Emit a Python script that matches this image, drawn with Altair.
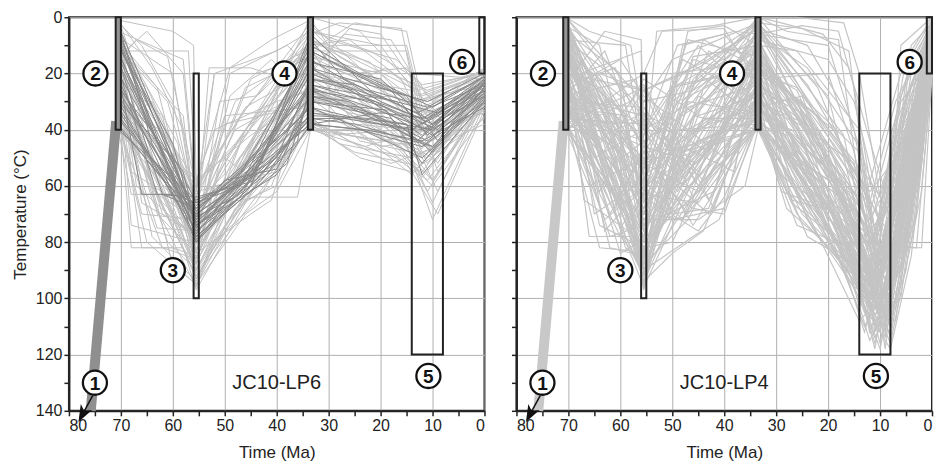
import altair as alt
import pandas as pd

# ---------------- data ----------------
# Thermal-history paths: flat lists of (time Ma, temperature C) pairs
LP6_LIGHT = [
    [70.5,3, 62,40, 55.5,88, 48,55, 33.5,8, 22,20, 11,45, 0,22],
    [70.5,10, 64,60, 55.5,92, 45,62, 33.5,30, 25,28, 12,52, 0,26],
    [70.5,25, 66,82, 58,82, 55.5,90, 44,45, 33.5,15, 18,35, 10,40, 0,20],
    [70.5,5, 58,15, 55.5,65, 50,60, 33.5,20, 14,26, 9,55, 0,28],
    [70.5,38, 63,63, 55.5,72, 52,20, 40,12, 33.5,5, 20,10, 13,28, 0,19],
    [70.5,15, 60,88, 55.5,95, 46,70, 40,62, 33.5,40, 16,45, 11,50, 0,32],
    [70.5,30, 68,82, 60,82, 55.5,85, 45,50, 33.5,12, 25,2, 15,5, 12,30, 0,21],
    [70.5,2, 66,10, 60,30, 55.5,70, 48,40, 33.5,25, 20,42, 10,60, 0,35],
    [70.5,20, 62,70, 55.5,78, 51,30, 44,28, 33.5,2, 24,18, 11,35, 0,23],
    [70.5,35, 65,50, 55.5,62, 47,58, 33.5,35, 28,45, 14,50, 8,45, 0,30],
    [70.5,8, 63,25, 55.5,80, 49,20, 38,10, 33.5,18, 22,32, 12,38, 0,24],
    [70.5,18, 60,55, 55.5,93, 50,75, 42,50, 33.5,28, 17,38, 10,66, 0,27],
    [70.5,12, 57,12, 55.5,60, 45,30, 33.5,10, 26,8, 16,22, 11,42, 0,20],
    [70.5,28, 64,40, 55.5,75, 43,38, 33.5,22, 28,28, 13,47, 0,33],
    [70.5,0, 67,20, 55.5,68, 52,60, 40,55, 33.5,38, 22,44, 12,55, 0,25],
    [70.5,40, 60,64, 55.5,82, 48,65, 33.5,30, 19,18, 11,30, 0,22],
    [70.5,22, 62,35, 55.5,86, 46,48, 38,20, 33.5,12, 15,12, 12,35, 0,18],
    [70.5,6, 59,45, 55.5,96, 50,66, 33.5,0, 24,5, 12,28, 0,20],
    [70.5,32, 63,75, 55.5,76, 53,18, 45,18, 33.5,25, 20,36, 9,48, 0,29],
    [70.5,14, 65,5, 58,20, 55.5,66, 48,52, 33.5,16, 25,38, 14,40, 0,26],
    [70.5,26, 61,80, 55.5,90, 47,60, 33.5,36, 30,42, 16,40, 10,72, 0,31],
    [70.5,4, 62,50, 55.5,84, 45,70, 41,65, 33.5,20, 21,30, 13,38, 0,23],
    [70.5,36, 66,70, 55.5,72, 49,48, 33.5,8, 27,12, 18,20, 11,26, 0,19],
    [70.5,10, 58,35, 55.5,74, 50,50, 44,58, 33.5,40, 23,46, 12,40, 0,34],
    [70.5,20, 63,58, 55.5,88, 52,60, 36,12, 33.5,6, 28,2, 16,4, 12,40, 0,21],
    [70.5,2, 68,55, 55.5,70, 46,25, 33.5,14, 20,26, 8,36, 0,24],
    [70.5,30, 61,42, 55.5,64, 50,35, 33.5,32, 25,40, 14,56, 0,28],
    [70.5,16, 64,78, 55.5,94, 48,62, 33.5,24, 22,38, 10,50, 0,27],
    [70.5,24, 60,70, 55.5,80, 51,55, 33.5,3, 30,8, 17,15, 12,24, 0,20],
    [70.5,8, 66,30, 55.5,58, 45,42, 33.5,28, 26,34, 15,38, 9,62, 0,30],
    [70.5,38, 67,48, 55.5,92, 44,64, 33.5,38, 24,50, 14,55, 0,36],
    [70.5,12, 60,60, 55.5,86, 47,45, 37,18, 33.5,10, 21,24, 10,44, 0,22],
    [70.5,34, 62,66, 55.5,77, 49,28, 41,15, 33.5,30, 18,28, 11,34, 0,25],
    [70.5,6, 65,35, 55.5,83, 53,70, 33.5,18, 27,24, 12,46, 0,26],
    [70.5,28, 59,76, 55.5,97, 46,66, 33.5,26, 19,42, 11,58, 0,32],
    [70.5,40, 68,63, 60,63, 55.5,68, 44,64, 36,64, 33.5,40, 20,40, 13,48, 0,29],
    [70.5,20, 69,40, 60,58, 55.5,62, 52,20, 44,20, 33.5,14, 20,20, 13,30, 0,20],
    [70.5,1, 60,5, 56,10, 55.5,60, 48,45, 33.5,8, 25,15, 13,26, 0,19],
    [70.5,9, 66,45, 57,84, 55.5,89, 47,66, 40,60, 33.5,36, 26,44, 17,50, 12,57, 0,30],
    [70.5,33, 60,50, 55.5,60, 49,18, 41,8, 33.5,1, 30,10, 15,10, 12,32, 0,22],
    [70.5,17, 67,60, 55.5,79, 50,64, 43,40, 33.5,20, 26,4, 20,6, 14,22, 9,40, 0,24],
    [70.5,1, 64,18, 58,40, 55.5,73, 46,58, 33.5,33, 21,38, 10,58, 0,31],
    [70.5,37, 65,80, 55.5,95, 48,70, 33.5,22, 23,26, 16,32, 11,52, 0,26],
    [70.5,24, 68,36, 55.5,58, 52,40, 40,30, 33.5,26, 24,32, 13,42, 0,23],
    [70.5,5, 63,70, 55.5,84, 51,52, 38,25, 33.5,4, 28,14, 17,26, 10,36, 0,21],
    [70.5,29, 62,56, 55.5,91, 44,60, 33.5,39, 25,48, 15,52, 9,70, 0,33],
    [70.5,13, 65,25, 55.5,63, 50,45, 45,22, 33.5,11, 27,30, 14,35, 8,42, 0,25],
    [70.5,39, 62,82, 55.5,86, 49,58, 33.5,29, 20,46, 12,44, 0,27],
    [70.5,7, 60,20, 55.5,71, 47,35, 33.5,5, 22,12, 13,22, 10,30, 0,18],
    [70.5,21, 64,65, 55.5,96, 52,80, 44,66, 33.5,34, 28,36, 16,46, 11,62, 0,29],
    [70.5,31, 66,42, 55.5,81, 46,40, 33.5,16, 23,22, 14,30, 0,24],
    [70.5,11, 61,30, 55.5,67, 52,62, 38,38, 33.5,37, 30,40, 18,52, 12,48, 0,38],
    [70.5,26, 63,48, 55.5,87, 45,54, 33.5,13, 25,20, 15,18, 11,28, 0,20],
    [70.5,3, 66,66, 55.5,77, 50,38, 33.5,31, 28,22, 20,30, 12,36, 0,26],
    [70.5,35, 60,74, 55.5,93, 48,68, 41,60, 33.5,24, 24,44, 14,48, 10,58, 0,30],
    [70.5,16, 67,8, 61,14, 55.5,61, 46,32, 33.5,19, 27,6, 18,8, 14,20, 0,22],
    [70.5,23, 59,62, 55.5,75, 44,46, 33.5,27, 21,34, 12,50, 0,28],
    [70.5,9, 63,55, 55.5,90, 49,72, 33.5,39, 26,42, 19,44, 11,40, 0,34],
    [70.5,37, 64,30, 55.5,66, 48,30, 42,22, 33.5,9, 22,16, 13,34, 0,21],
    [70.5,19, 68,74, 56,80, 55.5,83, 47,50, 33.5,21, 24,28, 15,36, 9,52, 0,25],
]
LP6_DARK = [
    [70.5,5, 55.5,72, 45,55, 33.5,15, 20,30, 10,38, 0,24],
    [70.5,15, 62,63, 55.5,68, 48,58, 33.5,25, 22,32, 11,40, 0,26],
    [70.5,30, 55.5,78, 46,62, 38,45, 33.5,30, 18,36, 10,48, 0,28],
    [70.5,10, 60,45, 55.5,75, 50,62, 40,50, 33.5,22, 25,26, 12,42, 0,22],
    [70.5,35, 55.5,70, 44,55, 33.5,38, 20,34, 11,36, 0,25],
    [70.5,20, 66,63, 60,63, 55.5,66, 47,60, 33.5,10, 24,20, 10,32, 0,21],
    [70.5,8, 55.5,80, 48,62, 42,48, 33.5,32, 26,38, 12,50, 0,30],
    [70.5,25, 58,55, 55.5,74, 45,58, 33.5,18, 15,28, 9,44, 0,23],
    [70.5,40, 55.5,65, 49,60, 33.5,35, 22,36, 10,40, 0,27],
    [70.5,12, 55.5,77, 46,56, 33.5,28, 26,30, 13,44, 0,24],
    [70.5,3, 62,40, 55.5,73, 43,50, 33.5,12, 20,25, 11,30, 0,20],
    [70.5,28, 55.5,69, 48,56, 38,40, 33.5,24, 17,30, 12,38, 0,26],
    [70.5,18, 63,63, 55.5,64, 44,58, 33.5,36, 25,38, 10,46, 0,29],
    [70.5,33, 55.5,76, 47,64, 33.5,20, 23,27, 9,34, 0,22],
    [70.5,6, 55.5,71, 50,58, 40,54, 33.5,30, 19,33, 12,52, 0,25],
    [70.5,22, 55.5,80, 45,60, 33.5,8, 27,22, 11,36, 0,21],
    [70.5,38, 61,60, 55.5,67, 46,52, 33.5,26, 21,30, 10,42, 0,28],
    [70.5,14, 55.5,74, 42,56, 33.5,34, 15,38, 12,56, 0,30],
    [70.5,2, 64,45, 55.5,76, 46,60, 33.5,18, 24,28, 12,36, 0,23],
    [70.5,26, 55.5,72, 48,60, 40,52, 33.5,28, 22,34, 11,44, 0,27],
    [70.5,36, 62,55, 55.5,70, 45,57, 33.5,16, 20,22, 10,38, 0,22],
    [70.5,10, 55.5,66, 47,58, 33.5,38, 24,40, 12,46, 0,30],
    [70.5,30, 60,50, 55.5,79, 44,60, 36,44, 33.5,22, 25,24, 13,34, 0,24],
    [70.5,16, 55.5,73, 49,62, 33.5,12, 18,26, 11,42, 0,26],
    [70.5,24, 66,38, 55.5,68, 46,54, 33.5,32, 20,38, 12,40, 0,28],
    [70.5,7, 55.5,78, 45,62, 38,52, 33.5,26, 26,32, 10,46, 0,25],
    [70.5,39, 55.5,71, 48,64, 33.5,36, 27,36, 14,40, 0,24],
    [70.5,20, 58,60, 55.5,75, 43,52, 33.5,6, 22,26, 11,32, 0,21],
    [70.5,13, 55.5,69, 47,55, 33.5,24, 19,32, 9,40, 0,23],
    [70.5,32, 55.5,74, 46,63, 40,56, 33.5,38, 23,40, 12,44, 0,32],
]
LP4_LIGHT = [
    [70.5,2, 55.5,90, 45,40, 33.5,5, 20,50, 11,100, 5,40, 0,5],
    [70.5,38, 55.5,25, 45,60, 33.5,38, 25,70, 12,95, 6,30, 0,15],
    [70.5,20, 62,82, 55.5,85, 48,30, 33.5,0, 28,5, 18,8, 14,60, 9,110, 3,30, 0,10],
    [70.5,10, 55.5,60, 50,72, 40,68, 33.5,20, 22,60, 11,80, 7,60, 0,20],
    [70.5,30, 65,50, 55.5,40, 45,10, 33.5,30, 26,45, 13,105, 6,55, 0,8],
    [70.5,5, 60,20, 55.5,75, 47,5, 40,3, 33.5,10, 20,55, 10,90, 4,20, 0,2],
    [70.5,25, 58,70, 55.5,95, 44,25, 33.5,15, 25,35, 12,115, 8,100, 0,12],
    [70.5,40, 66,60, 55.5,50, 49,50, 33.5,40, 27,58, 18,80, 11,95, 5,80, 0,18],
    [70.5,0, 55.5,30, 50,15, 33.5,2, 25,4, 16,12, 13,55, 9,108, 6,10, 0,0],
    [70.5,15, 63,35, 55.5,88, 46,52, 33.5,25, 20,70, 10,112, 6,65, 3,30, 0,10],
    [70.5,35, 64,82, 58,83, 55.5,92, 50,60, 33.5,5, 24,30, 14,48, 10,85, 0,5],
    [70.5,8, 55.5,45, 42,20, 33.5,35, 28,62, 19,78, 12,100, 7,45, 0,16],
    [70.5,22, 60,65, 55.5,55, 53,5, 42,3, 33.5,0, 22,25, 12,70, 4,15, 0,3],
    [70.5,12, 55.5,70, 48,72, 40,30, 33.5,12, 26,40, 11,92, 8,85, 0,14],
    [70.5,40, 58,30, 55.5,22, 45,35, 33.5,28, 30,55, 15,75, 9,104, 2,12, 0,6],
    [70.5,3, 64,10, 55.5,80, 45,62, 33.5,38, 22,65, 13,110, 5,82, 2,82, 0,20],
    [70.5,28, 55.5,35, 50,45, 33.5,8, 20,15, 15,30, 11,60, 7,75, 0,9],
    [70.5,18, 62,40, 55.5,68, 46,15, 33.5,22, 25,50, 14,88, 9,96, 4,40, 0,11],
    [70.5,32, 55.5,92, 52,55, 43,70, 33.5,30, 24,66, 12,104, 8,112, 0,18],
    [70.5,6, 58,55, 55.5,48, 47,25, 33.5,3, 27,20, 13,65, 6,20, 0,1],
    [70.5,26, 60,15, 55.5,28, 40,50, 33.5,35, 28,40, 17,60, 10,100, 3,55, 0,16],
    [70.5,14, 55.5,85, 49,35, 33.5,18, 24,45, 12,82, 8,60, 0,7],
    [70.5,36, 63,72, 55.5,60, 45,48, 33.5,10, 26,12, 14,40, 11,76, 6,35, 0,4],
    [70.5,0, 66,5, 58,10, 55.5,38, 44,58, 33.5,40, 26,70, 13,96, 7,104, 0,19],
    [70.5,22, 55.5,78, 48,10, 38,5, 33.5,6, 25,3, 18,5, 15,25, 12,58, 8,90, 0,8],
    [70.5,10, 60,75, 55.5,62, 47,40, 33.5,26, 20,62, 11,116, 5,70, 0,13],
    [70.5,30, 55.5,32, 43,65, 33.5,32, 25,55, 13,78, 9,70, 4,25, 0,5],
    [70.5,38, 62,45, 55.5,82, 50,80, 41,45, 33.5,14, 22,40, 12,90, 7,50, 0,17],
    [70.5,4, 55.5,55, 46,68, 40,70, 33.5,36, 27,60, 16,85, 10,110, 6,85, 0,20],
    [70.5,16, 57,60, 55.5,42, 48,20, 33.5,2, 20,28, 14,72, 8,80, 3,20, 0,2],
    [70.5,34, 60,48, 55.5,96, 50,50, 33.5,20, 26,25, 12,62, 6,48, 0,10],
    [70.5,20, 64,25, 55.5,52, 46,45, 33.5,34, 23,75, 13,98, 8,106, 4,60, 0,14],
    [70.5,8, 59,82, 55.5,86, 44,30, 33.5,9, 28,35, 15,52, 11,88, 5,28, 0,6],
    [70.5,40, 55.5,20, 52,5, 40,4, 33.5,24, 20,45, 12,85, 7,90, 0,18],
    [70.5,12, 62,60, 55.5,72, 45,72, 36,60, 33.5,40, 30,45, 18,82, 13,112, 7,70, 0,12],
    [70.5,26, 55.5,58, 49,30, 33.5,16, 22,50, 11,74, 4,45, 0,3],
    [70.5,2, 60,32, 55.5,65, 47,58, 33.5,28, 25,46, 14,64, 9,98, 6,72, 0,15],
    [70.5,36, 64,20, 55.5,26, 45,18, 33.5,4, 24,10, 16,35, 10,68, 5,15, 0,0],
    [70.5,18, 55.5,90, 46,78, 41,72, 33.5,38, 20,80, 13,100, 8,95, 0,20],
    [70.5,6, 61,52, 55.5,44, 49,62, 33.5,12, 27,28, 17,55, 12,108, 6,40, 0,9],
    [70.5,24, 57,40, 55.5,76, 44,40, 33.5,30, 26,38, 20,72, 12,80, 3,82, 0,19],
    [70.5,32, 55.5,66, 43,12, 33.5,22, 20,20, 15,48, 10,92, 5,55, 0,7],
    [70.5,14, 67,65, 55.5,80, 50,25, 33.5,8, 25,55, 14,104, 9,60, 0,11],
    [70.5,28, 63,12, 55.5,48, 47,70, 33.5,34, 28,68, 16,88, 11,114, 7,100, 0,17],
    [70.5,0, 55.5,36, 45,55, 33.5,18, 19,40, 12,66, 7,30, 0,4],
    [70.5,38, 59,68, 55.5,94, 49,45, 33.5,26, 24,35, 13,86, 10,106, 2,40, 0,13],
    [70.5,10, 64,45, 55.5,24, 48,48, 33.5,40, 22,58, 14,92, 8,76, 0,10],
    [70.5,22, 56,12, 55.5,64, 50,30, 33.5,6, 30,25, 20,48, 13,84, 7,62, 0,6],
    [70.5,30, 62,78, 55.5,74, 42,62, 33.5,14, 28,48, 12,100, 6,90, 0,18],
    [70.5,4, 60,58, 55.5,84, 48,62, 34,38, 33.5,32, 21,52, 14,76, 11,112, 4,60, 0,16],
    [70.5,16, 55.5,40, 46,30, 33.5,0, 26,0, 17,2, 14,20, 10,64, 5,30, 0,2],
    [70.5,34, 62,30, 55.5,70, 47,32, 33.5,24, 22,64, 12,96, 9,112, 3,42, 0,12],
    [70.5,12, 58,76, 55.5,88, 45,44, 33.5,36, 27,40, 15,68, 10,86, 0,8],
    [70.5,26, 55.5,50, 50,70, 43,68, 33.5,16, 23,35, 13,60, 8,82, 5,82, 0,14],
    [70.5,8, 65,70, 55.5,58, 48,15, 33.5,30, 20,76, 11,104, 6,56, 0,9],
    [70.5,40, 55.5,78, 46,22, 33.5,2, 24,38, 14,80, 8,114, 4,72, 0,19],
    [70.5,20, 61,68, 55.5,46, 45,52, 33.5,20, 25,30, 16,58, 12,92, 7,38, 0,5],
    [70.5,2, 55.5,62, 49,40, 33.5,38, 27,50, 16,62, 11,98, 6,78, 0,15],
    [70.5,36, 60,38, 55.5,34, 43,48, 33.5,12, 22,44, 13,70, 9,118, 5,50, 0,11],
    [70.5,14, 57,50, 55.5,92, 52,66, 33.5,26, 26,62, 14,108, 7,94, 0,17],
    [70.5,24, 63,5, 56,8, 55.5,40, 48,60, 33.5,22, 28,40, 15,80, 10,102, 4,50, 0,6],
    [70.5,6, 55.5,94, 50,84, 44,76, 33.5,28, 22,70, 12,92, 8,110, 3,55, 0,10],
    [70.5,38, 65,20, 55.5,54, 47,8, 33.5,14, 26,30, 18,66, 11,96, 6,62, 0,3],
    [70.5,12, 58,45, 55.5,66, 45,20, 33.5,36, 24,78, 13,90, 9,114, 5,40, 0,18],
    [70.5,30, 55.5,83, 48,46, 38,55, 33.5,6, 20,10, 15,40, 12,72, 7,55, 0,14],
    [70.5,2, 64,50, 55.5,26, 46,64, 33.5,20, 27,65, 17,70, 11,106, 4,80, 0,20],
    [70.5,20, 60,84, 55.5,79, 49,65, 33.5,32, 25,28, 14,84, 10,96, 5,22, 0,1],
    [70.5,34, 55.5,44, 44,30, 33.5,10, 28,50, 19,62, 12,110, 6,100, 0,16],
    [70.5,16, 63,28, 55.5,91, 46,35, 33.5,40, 20,58, 13,74, 8,92, 2,30, 0,8],
    [70.5,8, 59,10, 55.5,52, 50,40, 42,68, 33.5,26, 24,72, 15,96, 11,100, 6,70, 0,12],
    [70.5,40, 62,62, 55.5,70, 44,8, 33.5,18, 22,35, 12,58, 8,70, 3,62, 0,19],
    [70.5,26, 55.5,87, 47,30, 33.5,34, 29,62, 20,68, 13,94, 10,116, 5,66, 0,7],
    [70.5,4, 61,40, 55.5,36, 52,60, 33.5,4, 24,24, 14,56, 9,88, 4,35, 0,0],
    [70.5,36, 55.5,63, 45,66, 33.5,38, 28,42, 18,74, 11,90, 7,82, 0,15],
    [70.5,14, 66,78, 58,78, 55.5,94, 46,55, 33.5,14, 21,60, 13,100, 7,108, 0,13],
    [70.5,28, 57,22, 55.5,58, 48,72, 33.5,28, 26,52, 16,78, 12,112, 5,75, 0,17],
    [70.5,10, 55.5,76, 43,40, 33.5,0, 29,2, 21,6, 16,18, 11,50, 8,68, 0,4],
    [70.5,22, 62,70, 55.5,48, 47,46, 33.5,36, 23,56, 14,70, 9,100, 3,48, 0,11],
    [70.5,32, 59,35, 55.5,84, 50,20, 33.5,16, 27,46, 15,88, 11,108, 6,95, 0,20],
    [70.5,0, 55.5,72, 49,58, 33.5,30, 22,40, 13,62, 8,78, 4,10, 0,2],
    [70.5,18, 64,62, 55.5,30, 46,26, 33.5,12, 24,58, 12,88, 9,104, 2,52, 0,9],
    [70.5,38, 60,78, 55.5,88, 47,72, 33.5,24, 28,30, 17,64, 10,96, 5,45, 0,14],
    [70.5,6, 55.5,56, 45,45, 33.5,40, 25,62, 14,100, 8,118, 4,85, 0,18],
    [70.5,24, 61,18, 55.5,42, 49,10, 40,6, 33.5,20, 23,48, 13,80, 7,44, 0,6],
    [70.5,12, 58,66, 55.5,90, 44,58, 33.5,8, 26,36, 15,62, 10,82, 0,10],
    [70.5,30, 55.5,68, 47,50, 33.5,32, 21,50, 12,76, 9,86, 5,70, 0,16],
    [70.5,2, 63,76, 55.5,60, 50,25, 33.5,18, 28,28, 19,58, 12,104, 6,28, 0,3],
    [70.5,34, 55.5,46, 46,74, 33.5,38, 26,74, 16,82, 11,118, 7,72, 0,19],
    [70.5,16, 60,42, 55.5,97, 48,40, 33.5,6, 24,18, 14,46, 10,94, 4,28, 0,5],
    [70.5,26, 65,35, 55.5,52, 45,62, 33.5,28, 22,54, 13,90, 8,96, 0,15],
    [70.5,28, 55.5,86, 45,30, 33.5,2, 26,20, 17,42, 12,86, 8,104, 5,60, 0,8],
    [70.5,8, 62,20, 55.5,34, 48,55, 33.5,24, 25,58, 15,92, 10,118, 6,80, 0,14],
    [70.5,40, 55.5,74, 44,36, 33.5,36, 24,60, 14,96, 9,90, 4,36, 0,4],
    [70.5,18, 58,72, 55.5,62, 46,14, 33.5,10, 27,32, 18,56, 12,94, 7,66, 0,12],
    [70.5,32, 61,56, 55.5,90, 50,60, 33.5,30, 22,66, 13,88, 9,112, 5,90, 0,18],
    [70.5,4, 55.5,46, 47,20, 33.5,20, 29,42, 19,70, 12,100, 6,58, 0,7],
    [70.5,22, 64,74, 55.5,82, 43,52, 33.5,8, 23,42, 13,74, 8,98, 3,35, 0,1],
    [70.5,36, 55.5,38, 49,56, 33.5,26, 26,56, 16,76, 11,110, 6,88, 0,16],
    [70.5,12, 60,28, 55.5,70, 45,28, 33.5,38, 27,66, 15,84, 10,104, 4,50, 0,10],
    [70.5,26, 55.5,96, 47,62, 33.5,14, 24,34, 14,66, 9,94, 5,40, 0,5],
    [70.5,0, 63,42, 55.5,54, 46,40, 33.5,32, 21,58, 12,98, 8,116, 2,62, 0,19],
    [70.5,20, 55.5,26, 44,16, 33.5,4, 28,18, 17,48, 11,80, 7,88, 0,13],
    [70.5,34, 62,50, 55.5,78, 48,44, 33.5,22, 25,44, 14,90, 10,100, 6,45, 0,9],
    [70.5,14, 55.5,64, 45,76, 40,64, 33.5,36, 23,62, 13,82, 9,106, 3,70, 0,17],
    [70.5,6, 59,78, 55.5,92, 49,24, 33.5,18, 26,26, 16,70, 12,96, 5,50, 0,11],
]

# Constraint boxes: t_old, t_young, T_top, T_bottom, filled
BOX_T1 = [71, 56, 34, 14, 1]
BOX_T2 = [70, 55, 33, 8, 0]
BOX_Y1 = [0, 20, 0, 20, 0]
BOX_Y2 = [40, 100, 40, 120, 20]
BOX_FILL = [1, 0, 1, 0, 0]

# Circled constraint numbers
LABEL_NUM = ["1", "2", "3", "4", "5", "6"]
LABEL_T = [75.0, 74.9, 60.0, 38.5, 10.8, 4.3]
LABEL_Y = [130, 20, 90, 20, 127.6, 15.9]

# Path from 140 C into box 2, and the arrow below label 1
BAND_T = [75.8, 70.9]
BAND_Y = [140, 37]
ARROW_T = [75.4, 77.4]
ARROW_Y = [134.5, 141.3]

PANELS = ["JC10-LP6", "JC10-LP4"]
SAMPLE_T = 40
SAMPLE_Y = 130

FONT = "Liberation Sans"
INK = "#222222"

# ---------------- helpers ----------------
def paths_frame(paths, tag):
    rows = []
    for i, p in enumerate(paths):
        for j in range(0, len(p), 2):
            rows.append({"pid": f"{tag}{i}", "ord": j // 2, "t": p[j], "T": p[j + 1]})
    return pd.DataFrame(rows)


XSCALE = alt.Scale(domain=[0, 80], reverse=True, nice=False, zero=False)
YSCALE = alt.Scale(domain=[0, 140], reverse=True, nice=False, zero=False)


def xaxis():
    return alt.Axis(
        values=list(range(0, 81, 5)),
        labelExpr="datum.value % 10 === 0 ? datum.label : ''",
        gridOpacity={"condition": {"test": "datum.value % 10 === 0", "value": 1}, "value": 0},
        title="Time (Ma)",
    )


def yaxis(show):
    if show:
        return alt.Axis(
            values=list(range(0, 141, 10)),
            labelExpr="datum.value % 20 === 0 ? datum.label : ''",
            gridOpacity={"condition": {"test": "datum.value % 20 === 0", "value": 1}, "value": 0},
            title="Temperature (°C)",
        )
    return alt.Axis(
        values=list(range(0, 141, 10)),
        labels=False,
        gridOpacity={"condition": {"test": "datum.value % 20 === 0", "value": 1}, "value": 0},
        title=None,
    )


def X(field):
    return alt.X(f"{field}:Q", scale=XSCALE, axis=xaxis())


def Y(field, show):
    return alt.Y(f"{field}:Q", scale=YSCALE, axis=yaxis(show))


def panel(name, light, dark, show_y, light_col, light_w, dark_col, band_col, box_fill):
    layers = []
    lp = paths_frame(light, "l")
    layers.append(
        alt.Chart(lp).mark_line(strokeWidth=light_w, color=light_col)
        .encode(x=X("t"), y=Y("T", show_y), detail="pid:N", order="ord:Q")
    )
    if dark:
        dp = paths_frame(dark, "d")
        layers.append(
            alt.Chart(dp).mark_line(strokeWidth=1, color=dark_col)
            .encode(x=X("t"), y=Y("T", show_y), detail="pid:N", order="ord:Q")
        )
    band = pd.DataFrame({"t": BAND_T, "T": BAND_Y})
    layers.append(
        alt.Chart(band).mark_line(strokeWidth=10, color=band_col, strokeCap="butt")
        .encode(x=X("t"), y=Y("T", show_y))
    )
    boxes = pd.DataFrame({"t": BOX_T1, "t2": BOX_T2, "T": BOX_Y1, "T2": BOX_Y2, "f": BOX_FILL})
    layers.append(
        alt.Chart(boxes).mark_rect(stroke=INK, strokeWidth=2)
        .encode(
            x=X("t"), x2="t2:Q", y=Y("T", show_y), y2="T2:Q",
            fill=alt.Fill("f:N", scale=alt.Scale(domain=[0, 1], range=["transparent", box_fill]), legend=None),
        )
    )
    arrow = pd.DataFrame({"t": ARROW_T, "T": ARROW_Y})
    layers.append(
        alt.Chart(arrow).mark_line(strokeWidth=1.5, color="#111111")
        .encode(x=X("t"), y=Y("T", show_y))
    )
    tip = pd.DataFrame({"t": [ARROW_T[1]], "T": [ARROW_Y[1]]})
    layers.append(
        alt.Chart(tip).mark_point(
            shape="M0,-1L0.75,1L0,0.45L-0.75,1Z", filled=True, angle=208, size=290,
            color="#111111", opacity=1,
        ).encode(x=X("t"), y=Y("T", show_y))
    )
    labs = pd.DataFrame({"t": LABEL_T, "T": LABEL_Y, "n": LABEL_NUM})
    layers.append(
        alt.Chart(labs).mark_point(
            shape="circle", size=580, filled=False, fill="white", fillOpacity=1,
            stroke="#111111", strokeWidth=2.3, opacity=1,
        ).encode(x=X("t"), y=Y("T", show_y))
    )
    layers.append(
        alt.Chart(labs).mark_text(
            font=FONT, fontSize=19, fontWeight="bold", color="#111111",
            align="center", baseline="middle", dy=1,
        ).encode(x=X("t"), y=Y("T", show_y), text="n:N")
    )
    name_df = pd.DataFrame({"t": [SAMPLE_T], "T": [SAMPLE_Y], "s": [name]})
    layers.append(
        alt.Chart(name_df).mark_text(
            font=FONT, fontSize=20, color=INK, align="center", baseline="middle",
        ).encode(x=X("t"), y=Y("T", show_y), text="s:N")
    )
    return alt.layer(*layers).properties(width=416, height=394)


left = panel(PANELS[0], LP6_LIGHT, LP6_DARK, True, "#c0c0c0", 1, "#888888", "#8f8f8f", "#959595")
right = panel(PANELS[1], LP4_LIGHT, None, False, "#c4c4c4", 1.15, "#c4c4c4", "#c8c8c8", "#c8c8c8")

chart = (
    alt.hconcat(left, right, spacing=32, bounds="flush")
    .properties(padding={"left": 2, "top": 0, "right": 2, "bottom": 2})
    .configure_view(stroke=INK, strokeWidth=2)
    .configure_axis(
        domainColor=INK, domainWidth=2, tickColor=INK, tickWidth=1.5, tickSize=5,
        labelFont=FONT, labelFontSize=16, labelColor=INK, labelPadding=2,
        titleFont=FONT, titleFontSize=17, titleFontWeight="normal", titleColor=INK,
        gridColor="#b0b0b0", gridWidth=1,
    )
    .configure_axisX(titlePadding=11)
    .configure_axisY(titlePadding=6)
)

chart.save("out.html", embed_options={"renderer": "svg", "actions": False})
